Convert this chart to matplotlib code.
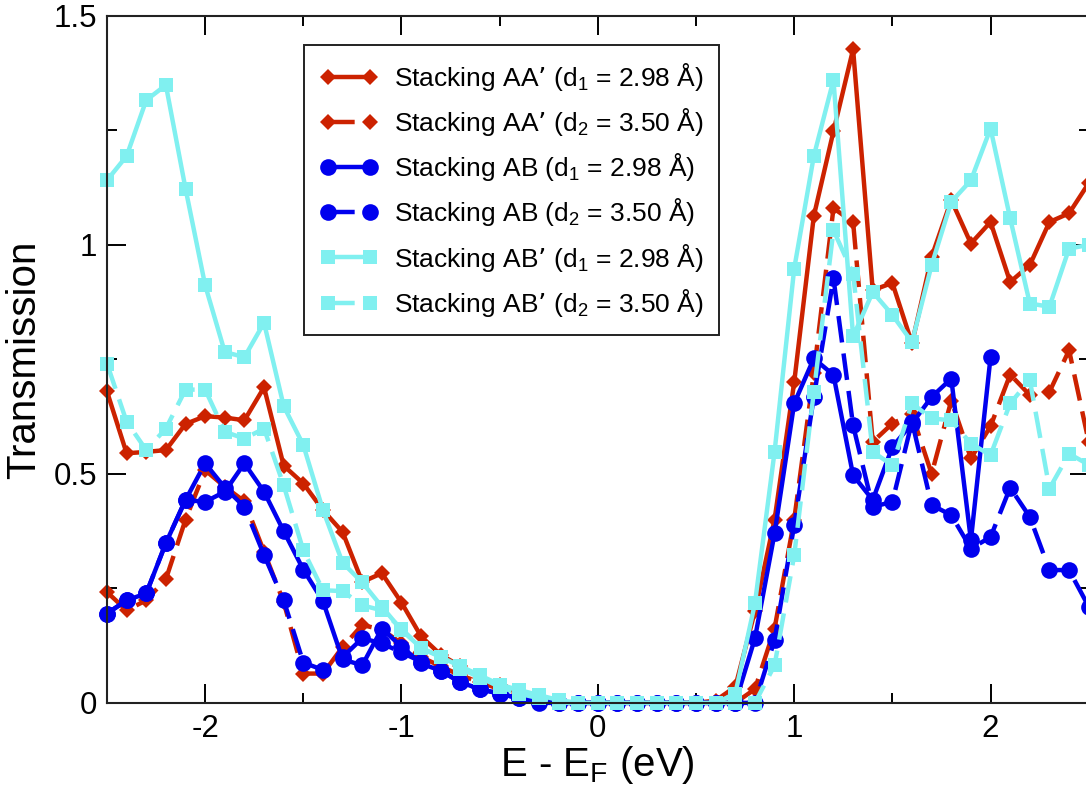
import numpy as np
import matplotlib
matplotlib.use("Agg")
import matplotlib.pyplot as plt
from matplotlib.ticker import MultipleLocator

plt.rcParams['font.family'] = ['Liberation Sans', 'DejaVu Sans']
plt.rcParams['mathtext.default'] = 'regular'

# energy grid, E - E_F (eV)
energy = np.round(np.linspace(-2.5, 2.5, 51), 2)

aa_d1 = [0.68, 0.545, 0.548, 0.552, 0.609, 0.626, 0.623, 0.617, 0.689, 0.518,
         0.479, 0.421, 0.373, 0.264, 0.283, 0.219, 0.145, 0.105, 0.08, 0.055,
         0.04, 0.02, 0.01, 0.0, 0.0, 0.0, 0.0, 0.0, 0.0, 0.0,
         0.0, 0.005, 0.035, 0.20, 0.40, 0.70, 1.063, 1.248, 1.427, 0.901,
         0.917, 0.785, 0.974, 1.098, 1.003, 1.05, 0.919, 0.956, 1.05, 1.069,
         1.135]

aa_d2 = [0.242, 0.202, 0.224, 0.27, 0.40, 0.508, 0.472, 0.44, 0.33, 0.22,
         0.064, 0.064, 0.122, 0.17, 0.16, 0.13, 0.10, 0.08, 0.06, 0.045,
         0.03, 0.015, 0.005, 0.0, 0.0, 0.0, 0.0, 0.0, 0.0, 0.0,
         0.0, 0.0, 0.0, 0.03, 0.162, 0.40, 0.72, 1.08, 1.05, 0.57,
         0.61, 0.63, 0.50, 0.66, 0.534, 0.604, 0.717, 0.672, 0.679, 0.77,
         0.57]

ab_d1 = [0.195, 0.224, 0.239, 0.349, 0.443, 0.439, 0.461, 0.523, 0.461, 0.375,
         0.291, 0.222, 0.095, 0.082, 0.162, 0.123, 0.086, 0.07, 0.045, 0.03,
         0.02, 0.01, 0.003, 0.0, 0.0, 0.0, 0.0, 0.0, 0.0, 0.0,
         0.0, 0.0, 0.0, 0.141, 0.37, 0.654, 0.752, 0.716, 0.497, 0.443,
         0.559, 0.61, 0.668, 0.708, 0.355, 0.755, np.nan, np.nan, np.nan, np.nan,
         np.nan]

ab_d2 = [0.195, 0.224, 0.239, 0.349, 0.443, 0.523, 0.47, 0.428, 0.323, 0.224,
         0.088, 0.072, 0.10, 0.141, 0.13, 0.11, 0.09, 0.07, 0.045, 0.03,
         0.02, 0.01, 0.0, 0.0, 0.0, 0.0, 0.0, 0.0, 0.0, 0.0,
         0.0, 0.0, 0.0, 0.0, 0.137, 0.388, 0.668, 0.927, 0.606, 0.428,
         0.439, 0.614, 0.432, 0.41, 0.337, 0.362, 0.47, 0.406, 0.29, 0.29,
         0.21]

abp_d1 = [1.141, 1.194, 1.316, 1.349, 1.123, 0.912, 0.766, 0.755, 0.83, 0.648,
          0.563, 0.421, 0.306, 0.263, 0.21, 0.159, 0.12, 0.10, 0.08, 0.06,
          0.04, 0.028, 0.017, 0.006, 0.0, 0.0, 0.0, 0.0, 0.0, 0.0,
          0.0, 0.0, 0.02, 0.217, 0.548, 0.948, 1.194, 1.36, 0.80, 0.897,
          0.847, 0.788, 0.956, 1.094, 1.141, 1.254, 1.058, 0.872, 0.865, 0.992,
          1.0]

abp_d2 = [0.741, 0.614, 0.552, 0.599, 0.684, 0.684, 0.592, 0.577, 0.599, 0.475,
          0.333, 0.246, 0.244, 0.213, 0.202, 0.162, 0.12, 0.10, 0.075, 0.055,
          0.035, 0.02, 0.01, 0.0, 0.0, 0.0, 0.0, 0.0, 0.0, 0.0,
          0.0, 0.0, 0.0, 0.0, 0.082, 0.322, 0.679, 1.032, 0.937, 0.548,
          0.519, 0.654, 0.621, 0.617, 0.566, 0.541, 0.654, 0.705, 0.468, 0.544,
          0.52]

RED, BLUE, CYAN = '#cc2200', '#0000ee', '#80f0f0'

series = [
    (aa_d1, "Stacking AA\u2019 (d$_1$ = 2.98 \u00c5)", RED, 'D', 8.5, False),
    (aa_d2, "Stacking AA\u2019 (d$_2$ = 3.50 \u00c5)", RED, 'D', 8.5, True),
    (ab_d1, "Stacking AB (d$_1$ = 2.98 \u00c5)", BLUE, 'o', 12, False),
    (ab_d2, "Stacking AB (d$_2$ = 3.50 \u00c5)", BLUE, 'o', 12, True),
    (abp_d1, "Stacking AB\u2019 (d$_1$ = 2.98 \u00c5)", CYAN, 's', 9.5, False),
    (abp_d2, "Stacking AB\u2019 (d$_2$ = 3.50 \u00c5)", CYAN, 's', 9.5, True),
]

fig = plt.figure(figsize=(10.86, 7.96), dpi=100)
ax = fig.add_axes([0.0985, 0.117, 0.904, 0.863])

for vals, label, color, marker, ms, dashed in series:
    line, = ax.plot(energy, vals, color=color, marker=marker, markersize=ms,
                    markeredgewidth=0, linewidth=3.2, label=label, clip_on=False)
    if dashed:
        line.set_dashes([6, 2.5])

ax.set_xlim(-2.5, 2.5)
ax.set_ylim(0, 1.5)
ax.xaxis.set_minor_locator(MultipleLocator(0.5))
ax.yaxis.set_minor_locator(MultipleLocator(0.25))
ax.set_xticks([-2, -1, 0, 1, 2])
ax.set_xticklabels(['-2', '-1', '0', '1', '2'])
ax.set_yticks([0, 0.5, 1, 1.5])
ax.set_yticklabels(['0', '0.5', '1', '1.5'])

ax.tick_params(which='both', direction='in', top=True, right=True, width=1.4)
ax.tick_params(which='major', length=14, labelsize=22.5)
ax.tick_params(which='minor', length=7)
ax.tick_params(axis='x', which='major', pad=8)
ax.tick_params(axis='y', which='major', pad=7)
for spine in ax.spines.values():
    spine.set_linewidth(1.5)
    spine.set_color('#222222')

ax.set_xlabel('E - E$_F$ (eV)', fontsize=29, labelpad=0)
ax.set_ylabel('Transmission', fontsize=29, labelpad=8)

leg = ax.legend(loc='upper left', bbox_to_anchor=(304 / 1086, 1 - 45 / 796),
                bbox_transform=fig.transFigure, borderaxespad=0,
                fontsize=19, numpoints=2, handlelength=2.2, handletextpad=0.6,
                labelspacing=0.5, borderpad=0.6, fancybox=False, framealpha=1)
leg.get_frame().set_edgecolor('#222222')
leg.get_frame().set_linewidth(1.4)

fig.savefig('out.png', dpi=100)
